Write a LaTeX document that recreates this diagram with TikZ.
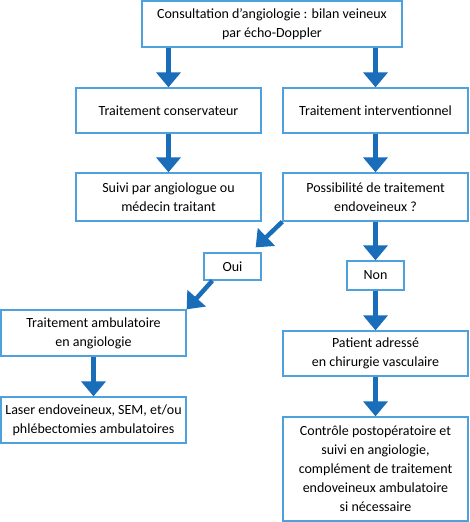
\documentclass[tikz,border=0pt]{standalone}
\usepackage{fontspec}
\setmainfont{Carlito}
\usetikzlibrary{arrows.meta}
\definecolor{boxblue}{HTML}{4EA1DC}
\definecolor{arrowblue}{HTML}{1A6DB8}

\begin{document}
\begin{tikzpicture}[x=1pt,y=-1pt,
  box/.style={draw=boxblue,line width=1.3pt,align=center,inner sep=0pt,
    minimum width=185pt,minimum height=45pt,font=\fontsize{14}{19}\selectfont},
  flow/.style={draw=arrowblue,line width=4.5pt,-{Triangle[width=24pt,length=15pt]}}]
\fill[white] (0,0) rectangle (469,522);
\useasboundingbox (0,0) rectangle (469,522);
% boxes
\node[box,minimum width=260pt,minimum height=46pt] (cons) at (272,24)
  {Consultation d’angiologie : bilan veineux\\par écho-Doppler};
\node[box] (conserv) at (168.5,110.5) {Traitement conservateur};
\node[box] (interv) at (375.5,110.5) {Traitement interventionnel};
\node[box,minimum height=48pt] (suivi) at (168.5,197) {Suivi par angiologue ou\\médecin traitant};
\node[box,minimum height=48pt] (possib) at (375.5,197) {Possibilité de traitement\\endoveineux ?};
\node[box,minimum width=57pt,minimum height=27pt] (oui) at (232.5,266.5) {Oui};
\node[box,minimum width=57pt,minimum height=29pt] (non) at (375.5,275.5) {Non};
\node[box,minimum height=46pt] (amb) at (93.5,333) {Traitement ambulatoire\\en angiologie};
\node[box,minimum height=46pt] (laser) at (93.5,420) {Laser endoveineux, SEM, et/ou\\phlébectomies ambulatoires};
\node[box] (patient) at (375.5,353.5) {Patient adressé\\en chirurgie vasculaire};
\node[box,minimum height=104pt] (controle) at (375.5,469)
  {Contrôle postopératoire et\\suivi en angiologie,\\complément de traitement\\endoveineux ambulatoire\\si nécessaire};
% arrows
\draw[flow] (cons.south -| conserv.north) -- (conserv.north);
\draw[flow] (cons.south -| interv.north) -- (interv.north);
\draw[flow] (conserv.south) -- (suivi.north);
\draw[flow] (interv.south) -- (possib.north);
\draw[flow] (possib.south west) -- ([shift={(-6,-5)}]oui.north east);
\draw[flow] ([xshift=9pt]oui.south west) -- (amb.north east);
\draw[flow] (possib.south) -- (non.north);
\draw[flow] (non.south) -- (patient.north);
\draw[flow] (amb.south) -- (laser.north);
\draw[flow] (patient.south) -- (controle.north);
\end{tikzpicture}
\end{document}
